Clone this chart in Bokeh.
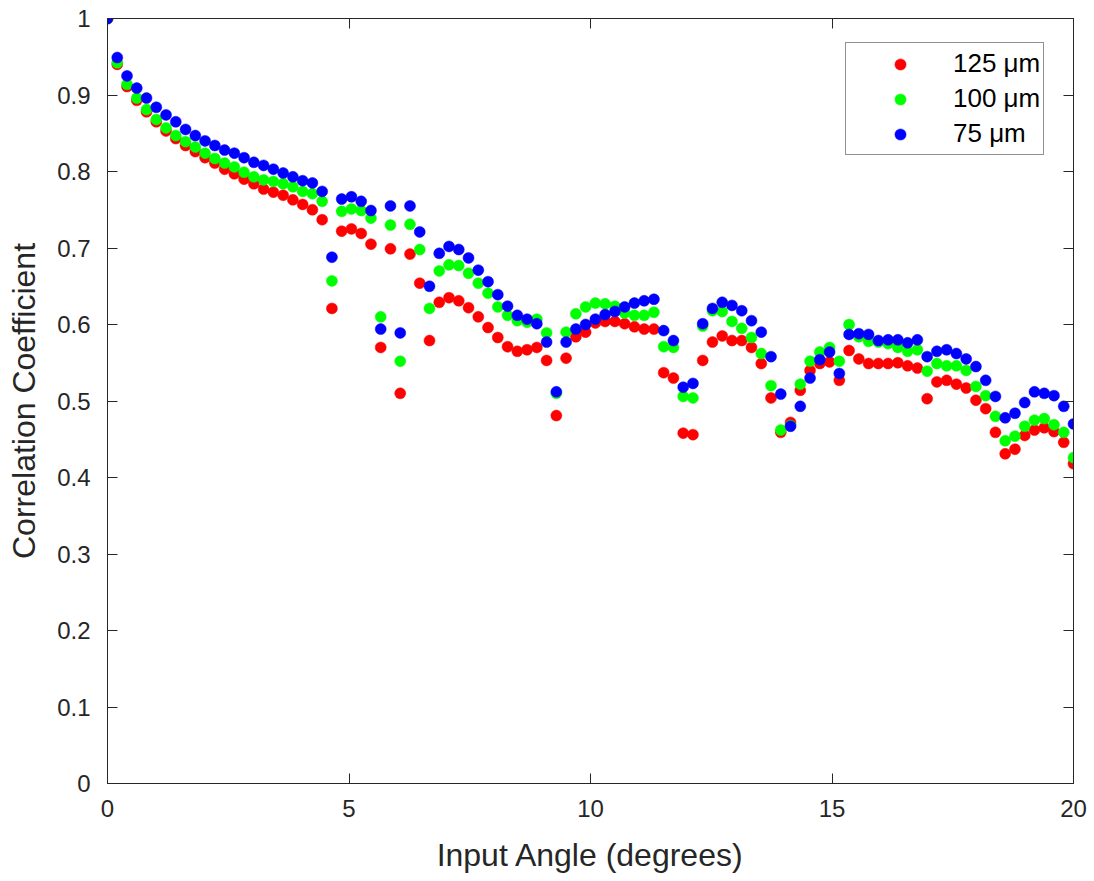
import numpy as np
from bokeh.plotting import figure
from bokeh.models import LinearAxis, FixedTicker, CustomJSTickFormatter, PrintfTickFormatter
from bokeh.embed import file_html
from bokeh.resources import INLINE

# Input angle grid (degrees): 100 samples from 0 to 20
angle = np.linspace(0, 20, 100)

r125 = [
    1.000, 0.940, 0.911, 0.893, 0.878, 0.865, 0.853, 0.843, 0.834, 0.826,
    0.818, 0.811, 0.803, 0.797, 0.790, 0.784, 0.777, 0.773, 0.769, 0.763,
    0.757, 0.750, 0.737, 0.621, 0.722, 0.725, 0.719, 0.705, 0.570, 0.699,
    0.510, 0.692, 0.654, 0.579, 0.629, 0.635, 0.631, 0.622, 0.610, 0.596,
    0.583, 0.571, 0.565, 0.567, 0.570, 0.553, 0.481, 0.556, 0.584, 0.590,
    0.602, 0.604, 0.604, 0.601, 0.597, 0.594, 0.594, 0.537, 0.530, 0.458,
    0.456, 0.553, 0.577, 0.585, 0.579, 0.579, 0.570, 0.549, 0.504, 0.459,
    0.472, 0.514, 0.540, 0.549, 0.551, 0.527, 0.566, 0.555, 0.549, 0.549,
    0.549, 0.550, 0.546, 0.543, 0.503, 0.525, 0.527, 0.522, 0.517, 0.501,
    0.490, 0.459, 0.431, 0.437, 0.455, 0.462, 0.465, 0.460, 0.446, 0.418,
]

r100 = [
    1.000, 0.942, 0.914, 0.896, 0.881, 0.868, 0.857, 0.847, 0.839, 0.832,
    0.824, 0.817, 0.811, 0.806, 0.799, 0.793, 0.789, 0.787, 0.784, 0.780,
    0.774, 0.771, 0.761, 0.657, 0.748, 0.751, 0.749, 0.739, 0.610, 0.730,
    0.552, 0.731, 0.698, 0.621, 0.670, 0.678, 0.677, 0.667, 0.654, 0.641,
    0.623, 0.612, 0.605, 0.603, 0.607, 0.589, 0.510, 0.590, 0.614, 0.623,
    0.628, 0.627, 0.624, 0.615, 0.612, 0.612, 0.616, 0.571, 0.570, 0.506,
    0.504, 0.598, 0.618, 0.617, 0.604, 0.595, 0.583, 0.562, 0.520, 0.462,
    0.468, 0.522, 0.552, 0.564, 0.570, 0.552, 0.600, 0.584, 0.578, 0.577,
    0.575, 0.570, 0.565, 0.567, 0.539, 0.549, 0.546, 0.546, 0.540, 0.519,
    0.507, 0.480, 0.448, 0.454, 0.467, 0.475, 0.477, 0.469, 0.459, 0.426,
]

r75 = [
    1.000, 0.949, 0.925, 0.909, 0.896, 0.884, 0.874, 0.865, 0.855, 0.847,
    0.840, 0.834, 0.828, 0.824, 0.818, 0.812, 0.808, 0.803, 0.798, 0.793,
    0.788, 0.785, 0.774, 0.688, 0.764, 0.767, 0.761, 0.749, 0.594, 0.755,
    0.589, 0.755, 0.721, 0.650, 0.693, 0.702, 0.698, 0.687, 0.671, 0.656,
    0.639, 0.624, 0.612, 0.607, 0.601, 0.577, 0.512, 0.577, 0.594, 0.600,
    0.607, 0.613, 0.617, 0.623, 0.628, 0.631, 0.633, 0.592, 0.579, 0.518,
    0.523, 0.601, 0.621, 0.629, 0.625, 0.618, 0.605, 0.590, 0.558, 0.509,
    0.467, 0.493, 0.530, 0.554, 0.564, 0.536, 0.587, 0.588, 0.587, 0.579,
    0.580, 0.580, 0.576, 0.580, 0.558, 0.565, 0.567, 0.562, 0.555, 0.545,
    0.527, 0.506, 0.478, 0.484, 0.498, 0.512, 0.510, 0.507, 0.493, 0.470,
]

series_labels = ["125 \u03bcm", "100 \u03bcm", "75 \u03bcm"]
series_colors = ["#ff0000", "#00ff00", "#0000ff"]

x_ticks = [0, 5, 10, 15, 20]
y_ticks = [0, 0.1, 0.2, 0.3, 0.4, 0.5, 0.6, 0.7, 0.8, 0.9, 1]

INK = "#262626"
FONT = "Liberation Sans"

p = figure(frame_width=966, frame_height=765,
           x_range=(0, 20), y_range=(0, 1),
           output_backend="svg", toolbar_location=None,
           min_border_left=107, min_border_right=21,
           min_border_top=18, min_border_bottom=98,
           background_fill_color="white", border_fill_color="white")

p.xgrid.grid_line_color = None
p.ygrid.grid_line_color = None
p.outline_line_color = INK
p.outline_line_width = 1

for ys, lab, col in zip([r125, r100, r75], series_labels, series_colors):
    p.scatter(angle, ys, size=11, fill_color=col, line_color=col,
              line_width=0.5, legend_label=lab)

xa = p.below[0]
ya = p.left[0]

top_ax = LinearAxis()
right_ax = LinearAxis()
p.add_layout(top_ax, "above")
p.add_layout(right_ax, "right")

blank = CustomJSTickFormatter(code="return ''")

for ax in [xa, top_ax]:
    ax.ticker = FixedTicker(ticks=x_ticks)
for ax in [ya, right_ax]:
    ax.ticker = FixedTicker(ticks=y_ticks)
ya.formatter = PrintfTickFormatter(format="%g")

for ax in [xa, ya, top_ax, right_ax]:
    ax.axis_line_color = INK
    ax.axis_line_width = 1
    ax.major_tick_line_color = INK
    ax.major_tick_line_width = 1
    ax.major_tick_in = 10
    ax.major_tick_out = 0
    ax.minor_tick_in = 0
    ax.minor_tick_out = 0
    ax.minor_tick_line_color = None
    ax.major_label_text_font = FONT
    ax.major_label_text_color = INK
    ax.major_label_text_font_size = "24px"

for ax in [top_ax, right_ax]:
    ax.formatter = blank
    ax.major_label_standoff = 0
    ax.major_label_text_font_size = "1px"

xa.axis_label = "Input Angle (degrees)"
xa.major_label_standoff = 16
xa.axis_label_standoff = 17
ya.axis_label = "Correlation Coefficient"
ya.major_label_standoff = 17
ya.axis_label_standoff = 12
for ax in [xa, ya]:
    ax.axis_label_text_font = FONT
    ax.axis_label_text_font_size = "32px"
    ax.axis_label_text_font_style = "normal"
    ax.axis_label_text_color = INK

lg = p.legend[0]
lg.location = (738, 628)
lg.margin = 0
lg.padding = 3
lg.spacing = 0
lg.label_height = 35
lg.glyph_height = 28
lg.glyph_width = 102
lg.label_standoff = 2
lg.label_text_font = FONT
lg.label_text_font_size = "26px"
lg.label_text_color = "black"
lg.border_line_color = INK
lg.border_line_width = 1
lg.background_fill_color = "white"
lg.background_fill_alpha = 1

open("out.html", "w").write(file_html(p, INLINE))
